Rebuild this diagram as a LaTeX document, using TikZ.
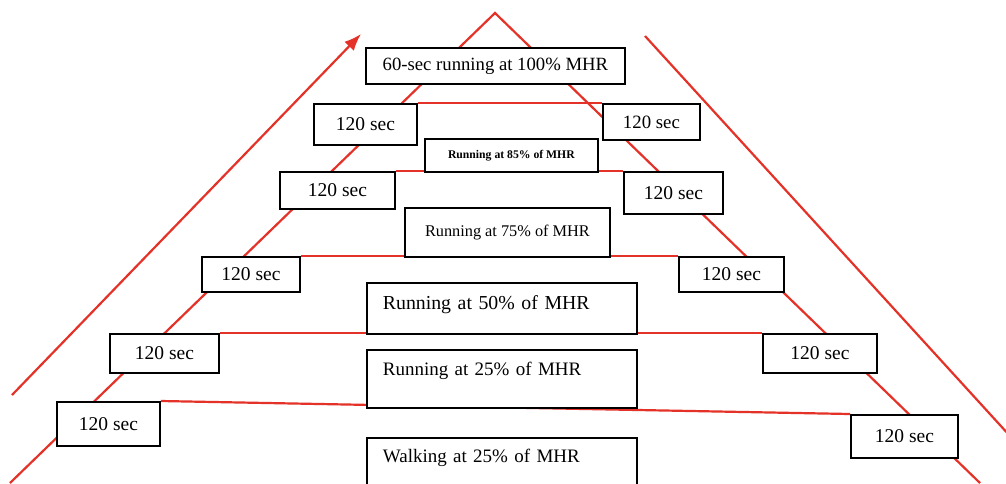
\documentclass[tikz,border=0pt]{standalone}
\usepackage{fontspec}
\setmainfont{Liberation Serif}
\usetikzlibrary{arrows.meta}
\definecolor{pyrred}{RGB}{228,50,40}
\pgfdeclarelayer{paper}
\pgfdeclarelayer{back}
\pgfsetlayers{paper,back,main}
\tikzset{
  redline/.style={draw=pyrred, line width=2.2pt},
  box/.style={draw=black, fill=white, line width=1.8pt, anchor=north west, inner sep=0pt, align=center},
  secbox/.style={box, font=\fontsize{19.5}{22}\selectfont},
  wide/.style={box, text width=238pt, align=left, inner xsep=16pt}
}
\begin{document}
\begin{tikzpicture}[x=1pt,y=-1pt]
\clip (0,0) rectangle (1006,483);
\begin{pgfonlayer}{paper}
\fill[white] (0,0) rectangle (1006,483);
\end{pgfonlayer}
% pyramid and outer lines
\coordinate (apex) at (495,13);
\coordinate (bl) at (10,483);
\coordinate (br) at (980,483);
\coordinate (a0) at (12,395);
\coordinate (a1) at (361,34);
\coordinate (o0) at (645,36);
\coordinate (o1) at (1010,436);
\draw[redline] (bl) -- (apex) -- (br);
\draw[redline, -{Latex[length=17pt,width=13pt]}] (a0) -- (a1);
\draw[redline] (o0) -- (o1);
% boxes
\node[box, minimum width=259pt, minimum height=36pt, font=\fontsize{18.7}{22}\selectfont] (top) at (365,47) {60-sec running at 100\% MHR};
\node[secbox, minimum width=103pt, minimum height=41pt] (l1) at (313,103) {120 sec};
\node[secbox, minimum width=97pt, minimum height=36pt, font=\fontsize{18.8}{22}\selectfont] (r1) at (602,103) {120 sec};
\node[box, minimum width=173pt, minimum height=33pt, font=\fontsize{11.7}{14}\selectfont\bfseries] (m85) at (424,138) {Running at 85\% of MHR};
\node[secbox, minimum width=115pt, minimum height=37pt] (l2) at (279,171) {120 sec};
\node[secbox, minimum width=99pt, minimum height=42pt] (r2) at (623,171) {120 sec};
\node[box, minimum width=205pt, minimum height=49pt, font=\fontsize{16.3}{20}\selectfont] (m75) at (404,207) {Running at 75\% of MHR};
\node[secbox, minimum width=98pt, minimum height=35pt] (l3) at (201,256) {120 sec};
\node[secbox, minimum width=105pt, minimum height=35pt] (r3) at (678,256) {120 sec};
\node[wide, minimum width=270pt, minimum height=51pt, text depth=11pt, font=\fontsize{19.8}{24}\selectfont] (m50) at (366,282) {Running at 50\% of MHR};
\node[secbox, minimum width=109pt, minimum height=39pt] (l4) at (109,333) {120 sec};
\node[secbox, minimum width=114pt, minimum height=39pt] (r4) at (762,333) {120 sec};
\node[wide, minimum width=270pt, minimum height=58pt, text depth=20pt, font=\fontsize{19}{24}\selectfont] (m25) at (366,349) {Running at 25\% of MHR};
\node[secbox, minimum width=103pt, minimum height=44pt] (l5) at (56,401) {120 sec};
\node[secbox, minimum width=107pt, minimum height=43pt] (r5) at (850,414) {120 sec};
\node[wide, minimum width=270pt, minimum height=58pt, text depth=22pt, font=\fontsize{19}{24}\selectfont] (walk) at (366,437) {Walking at 25\% of MHR};
% horizontal connectors, behind the boxes
\begin{pgfonlayer}{back}
\draw[redline] (l1.north east) -- (r1.north west);
\draw[redline] (l2.north east) -- (r2.north west);
\draw[redline] (l3.north east) -- (r3.north west);
\draw[redline] (l4.north east) -- (r4.north west);
\draw[redline] (l5.north east) -- (r5.north west);
\end{pgfonlayer}
\end{tikzpicture}
\end{document}
